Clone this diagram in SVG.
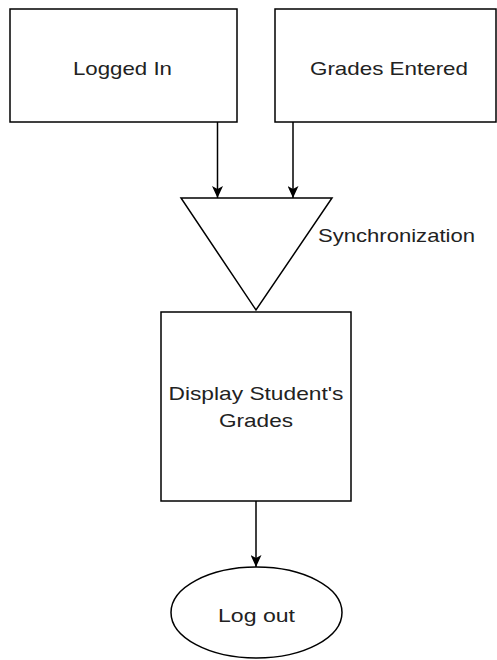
<svg xmlns="http://www.w3.org/2000/svg" width="497" height="660" viewBox="0 0 497 660">
<style>
.shape{fill:#fff;stroke:#000;stroke-width:1.5}
.edge{fill:none;stroke:#000;stroke-width:1.5}
.lbl{font-family:"Liberation Sans",Arial,sans-serif;font-size:18.5px;fill:#222;text-anchor:middle}
</style>
<defs>
<marker id="arr" viewBox="0 0 12 11" refX="12" refY="5.5" markerWidth="12" markerHeight="11" markerUnits="userSpaceOnUse" orient="auto">
<path d="M0,0 L12,5.5 L0,11 L3,5.5 Z" fill="#000"/>
</marker>
</defs>
<rect width="497" height="660" fill="#fff"/>
<g id="connectors">
<line class="edge" x1="217.5" y1="122" x2="217.5" y2="198" marker-end="url(#arr)"/>
<line class="edge" x1="293" y1="122" x2="293" y2="198" marker-end="url(#arr)"/>
<line class="edge" x1="256" y1="501" x2="256" y2="567" marker-end="url(#arr)"/>
</g>
<g id="logged-in">
<rect class="shape" x="10" y="9" width="227" height="113"/>
<text class="lbl" x="122.5" y="75" textLength="99" lengthAdjust="spacingAndGlyphs">Logged In</text>
</g>
<g id="grades-entered">
<rect class="shape" x="275" y="9" width="221" height="113"/>
<text class="lbl" x="389" y="75" textLength="158" lengthAdjust="spacingAndGlyphs">Grades Entered</text>
</g>
<g id="synchronization">
<polygon class="shape" points="181,198 332,198 256,310"/>
<text class="lbl" x="396.5" y="242" textLength="157" lengthAdjust="spacingAndGlyphs">Synchronization</text>
</g>
<g id="display-grades">
<rect class="shape" x="161" y="312" width="190" height="189"/>
<text class="lbl" x="256" y="400" textLength="175" lengthAdjust="spacingAndGlyphs">Display Student's</text>
<text class="lbl" x="256" y="427" textLength="74" lengthAdjust="spacingAndGlyphs">Grades</text>
</g>
<g id="log-out">
<ellipse class="shape" cx="256.5" cy="612.5" rx="85.5" ry="45.5"/>
<text class="lbl" x="256.5" y="622" textLength="77" lengthAdjust="spacingAndGlyphs">Log out</text>
</g>
</svg>
